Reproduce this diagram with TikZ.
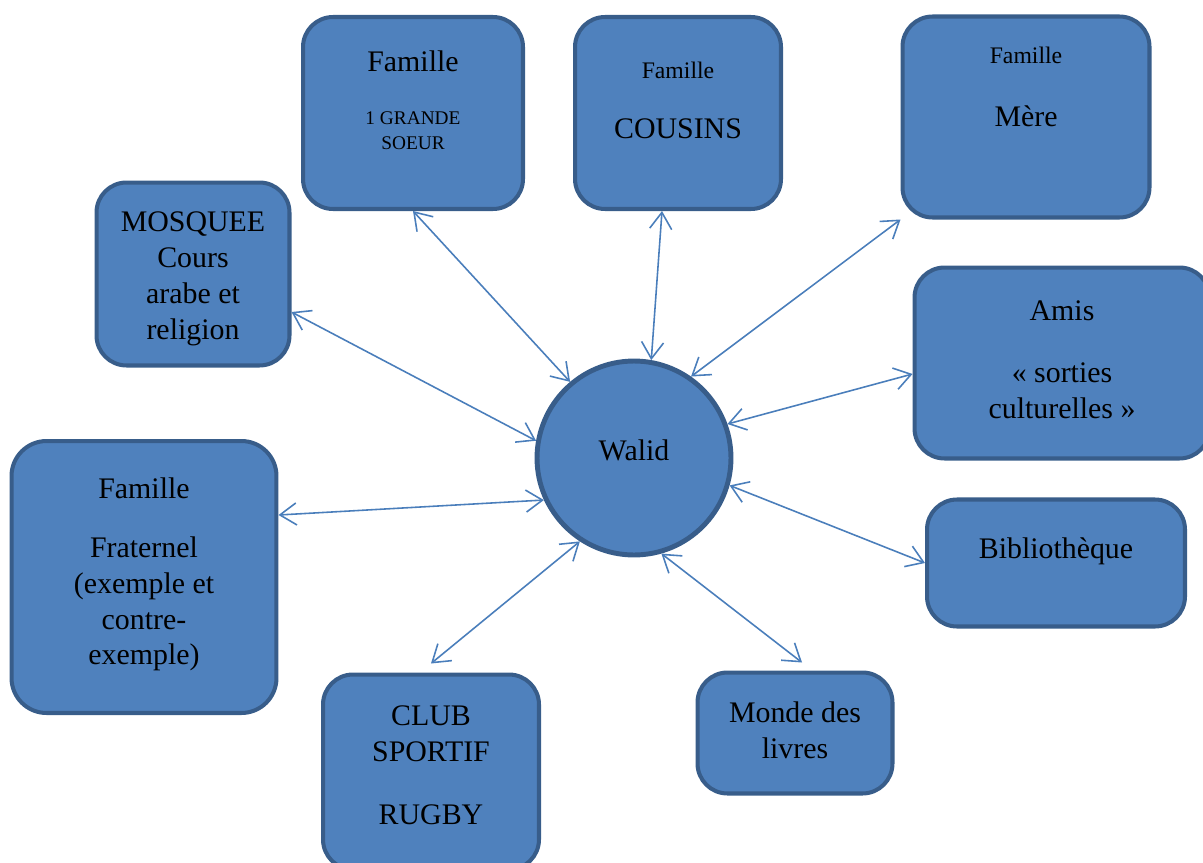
\documentclass[tikz,border=0pt]{standalone}
\usepackage{fontspec}
\setmainfont{Liberation Serif}
\usetikzlibrary{arrows.meta,calc}
\definecolor{boxfill}{HTML}{4F81BD}
\definecolor{boxline}{HTML}{385D8A}
\definecolor{linkcol}{HTML}{4A7EBB}

\begin{document}
\begin{tikzpicture}[x=0.02cm, y=-0.02cm,
    box/.style={rectangle, rounded corners=0.6cm, draw=boxline, fill=boxfill, line width=2.3pt, inner sep=0pt},
    big/.style={font=\fontsize{17}{20.4}\selectfont, align=center, inner sep=0pt},
    mid/.style={font=\fontsize{13.5}{16}\selectfont, align=center, inner sep=0pt},
    small/.style={font=\fontsize{11}{14.2}\selectfont, align=center, inner sep=0pt},
    link/.style={draw=linkcol, line width=0.9pt, {Straight Barb[length=3.3mm,width=4.4mm]}-{Straight Barb[length=3.3mm,width=4.4mm]}}]
    \useasboundingbox (0,0) rectangle (1203,862);
    \clip (0,0) rectangle (1203,862);

    % boxes
    \node[box, minimum width=4.4cm, minimum height=3.84cm]   at (413,113)   (gsoeur) {};
    \node[box, minimum width=4.12cm, minimum height=3.84cm]  at (678,113)   (cousins) {};
    \node[box, minimum width=4.94cm, minimum height=4.02cm]  at (1026,117)  (mere) {};
    \node[box, minimum width=3.86cm, minimum height=3.66cm]  at (193,274)   (mosquee) {};
    \node[box, minimum width=5.9cm, minimum height=3.82cm]   at (1062,363)  (amis) {};
    \node[box, minimum width=5.3cm, minimum height=5.44cm, rounded corners=0.7cm] at (144,577) (frat) {};
    \node[box, minimum width=5.16cm, minimum height=2.54cm]  at (1056,563)  (biblio) {};
    \node[box, minimum width=4.32cm, minimum height=3.9cm]   at (431,772)   (club) {};
    \node[box, minimum width=3.9cm, minimum height=2.42cm]   at (795,733)   (monde) {};
    \node[circle, draw=boxline, fill=boxfill, line width=2.8pt, minimum size=3.88cm, inner sep=0pt] at (634,458) (walid) {};

    % texts
    \node[big]   at (413,61)   (gsoeur-a) {Famille};
    \node[small] at (413,131)  (gsoeur-b) {1 GRANDE\\SOEUR};
    \node[mid]   at (678,70)   (cousins-a) {Famille};
    \node[big]   at (678,129)  (cousins-b) {COUSINS};
    \node[mid]   at (1026,55)  (mere-a) {Famille};
    \node[big]   at (1026,116) (mere-b) {Mère};
    \node[big]   at (193,279)  (mosquee-a) {MOSQUEE\\Cours\\arabe et\\religion};
    \node[big]   at (1062,311) (amis-a) {Amis};
    \node[big]   at (1062,391) (amis-b) {« sorties\\culturelles »};
    \node[big]   at (144,488)  (frat-a) {Famille};
    \node[big]   at (144,604)  (frat-b) {Fraternel\\(exemple et\\contre-\\exemple)};
    \node[big]   at (1056,551) (biblio-a) {Bibliothèque};
    \node[big]   at (431,734)  (club-a) {CLUB\\SPORTIF};
    \node[big]   at (431,815)  (club-b) {RUGBY};
    \node[big]   at (795,730)  (monde-a) {Monde des\\livres};
    \node[big]   at (634,450)  (walid-a) {Walid};

    % links
    \draw[link] (gsoeur.south) -- (walid.130);
    \draw[link] ($(cousins.south)+(-16,0)$) -- (walid.80);
    \draw[link] (mere.south west) -- (walid.55);
    \draw[link] ($(mosquee.east)+(0,38)$) -- (walid.170);
    \draw[link] ($(amis.west)+(0,11)$) -- (walid.20);
    \draw[link] ($(frat.east)+(0,-62)$) -- (walid.205);
    \draw[link] (biblio.west) -- (walid.-16);
    \draw[link] ($(club.north)+(0,-9)$) -- (walid.237);
    \draw[link] ($(monde.north)+(7,-8)$) -- (walid.-74);
\end{tikzpicture}
\end{document}
